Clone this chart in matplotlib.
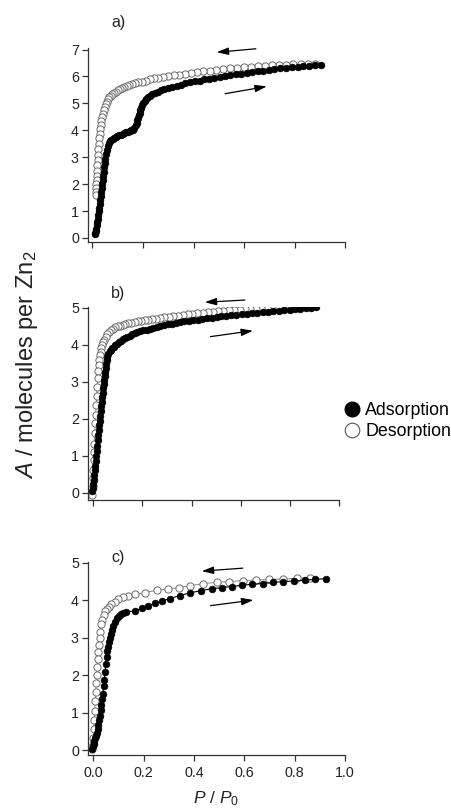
#isotermas de adsorcao / dessorcao - tres paineis
import matplotlib
matplotlib.use("Agg")
import matplotlib.pyplot as plt
from matplotlib.lines import Line2D

plt.rcParams['font.family'] = ['Liberation Sans', 'DejaVu Sans']
plt.rcParams['mathtext.fontset'] = 'custom'
plt.rcParams['mathtext.rm'] = 'Liberation Sans'
plt.rcParams['mathtext.it'] = 'Liberation Sans:italic'

#dados (P/P0, moleculas por Zn2)
pa_ads_x = [0.008, 0.010, 0.012, 0.014, 0.016, 0.018, 0.020, 0.022, 0.024, 0.026, 0.028, 0.030, 0.032, 0.034, 0.036,
            0.038, 0.040, 0.042, 0.044, 0.046, 0.048, 0.050, 0.053, 0.056, 0.060, 0.065, 0.070, 0.075, 0.080, 0.086,
            0.092, 0.098, 0.105, 0.112, 0.119, 0.126, 0.133, 0.140, 0.147, 0.154, 0.160, 0.166, 0.171, 0.175, 0.178,
            0.181, 0.184, 0.187, 0.190, 0.193, 0.197, 0.201, 0.206, 0.212, 0.219, 0.227, 0.236, 0.246, 0.258, 0.271,
            0.285, 0.300, 0.316, 0.333, 0.350, 0.368, 0.386, 0.405, 0.424, 0.443, 0.463, 0.483, 0.504, 0.525, 0.546,
            0.567, 0.588, 0.610, 0.632, 0.654, 0.676, 0.698, 0.720, 0.743, 0.766, 0.789, 0.812, 0.835, 0.858, 0.881,
            0.904]
pa_ads_y = [0.15, 0.17, 0.25, 0.35, 0.47, 0.60, 0.72, 0.85, 0.99, 1.12, 1.27, 1.41, 1.57, 1.72, 1.87,
            2.02, 2.16, 2.31, 2.45, 2.62, 2.78, 2.95, 3.12, 3.28, 3.42, 3.53, 3.60, 3.64, 3.68, 3.71,
            3.75, 3.78, 3.81, 3.84, 3.87, 3.89, 3.92, 3.95, 3.97, 4.00, 4.03, 4.10, 4.18, 4.27, 4.37,
            4.47, 4.56, 4.66, 4.75, 4.84, 4.93, 5.02, 5.10, 5.17, 5.23, 5.29, 5.34, 5.38, 5.43, 5.48,
            5.53, 5.57, 5.62, 5.66, 5.70, 5.74, 5.78, 5.82, 5.85, 5.89, 5.92, 5.96, 5.99, 6.02, 6.05,
            6.08, 6.11, 6.14, 6.17, 6.20, 6.22, 6.25, 6.27, 6.30, 6.32, 6.34, 6.36, 6.38, 6.40, 6.42,
            6.43]
pa_des_x = [0.880, 0.852, 0.824, 0.796, 0.768, 0.740, 0.712, 0.684, 0.656, 0.628, 0.600, 0.572, 0.545, 0.518,
            0.491, 0.465, 0.439, 0.414, 0.390, 0.366, 0.343, 0.321, 0.300, 0.280, 0.261, 0.243, 0.226, 0.210,
            0.195, 0.181, 0.168, 0.156, 0.145, 0.135, 0.125, 0.116, 0.108, 0.100, 0.092, 0.085, 0.078, 0.072,
            0.066, 0.061, 0.056, 0.052, 0.048, 0.044, 0.041, 0.038, 0.035, 0.032, 0.030, 0.028, 0.026, 0.024,
            0.022, 0.021, 0.020, 0.019, 0.018, 0.017, 0.016, 0.015, 0.014, 0.013, 0.012]
pa_des_y = [6.48, 6.47, 6.46, 6.45, 6.44, 6.43, 6.42, 6.40, 6.38, 6.36, 6.34, 6.32, 6.30, 6.27,
            6.25, 6.22, 6.19, 6.16, 6.13, 6.10, 6.07, 6.05, 6.02, 5.99, 5.96, 5.93, 5.89, 5.85,
            5.81, 5.78, 5.74, 5.71, 5.67, 5.64, 5.60, 5.56, 5.52, 5.48, 5.44, 5.39, 5.34, 5.28,
            5.22, 5.15, 5.06, 4.96, 4.86, 4.74, 4.62, 4.50, 4.36, 4.20, 4.05, 3.88, 3.70, 3.50,
            3.30, 3.10, 2.90, 2.70, 2.50, 2.30, 2.15, 2.00, 1.85, 1.70, 1.58]

pb_ads_x = [-0.004, -0.002, 0.000, 0.002, 0.004, 0.006, 0.008, 0.010, 0.012, 0.014, 0.016, 0.018, 0.020, 0.022,
            0.024, 0.026, 0.028, 0.030, 0.032, 0.034, 0.036, 0.038, 0.040, 0.042, 0.044, 0.046, 0.048, 0.050,
            0.052, 0.055, 0.058, 0.062, 0.067, 0.072, 0.077, 0.083, 0.090, 0.097, 0.104, 0.112, 0.120, 0.129,
            0.138, 0.148, 0.158, 0.169, 0.180, 0.192, 0.204, 0.217, 0.230, 0.244, 0.258, 0.273, 0.288, 0.304,
            0.320, 0.337, 0.354, 0.371, 0.389, 0.407, 0.425, 0.444, 0.463, 0.482, 0.502, 0.522, 0.542, 0.562,
            0.583, 0.604, 0.625, 0.646, 0.667, 0.689, 0.711, 0.733, 0.755, 0.777, 0.799, 0.821, 0.843, 0.865,
            0.887, 0.905]
pb_ads_y = [0.03, 0.13, 0.24, 0.35, 0.47, 0.60, 0.73, 0.86, 0.99, 1.13, 1.27, 1.41, 1.55, 1.69,
            1.82, 1.95, 2.08, 2.21, 2.34, 2.46, 2.58, 2.70, 2.82, 2.94, 3.05, 3.16, 3.27, 3.37,
            3.47, 3.58, 3.68, 3.76, 3.82, 3.87, 3.91, 3.95, 3.99, 4.03, 4.07, 4.11, 4.15, 4.18,
            4.22, 4.25, 4.28, 4.31, 4.34, 4.36, 4.39, 4.41, 4.43, 4.46, 4.48, 4.50, 4.53, 4.55,
            4.57, 4.59, 4.61, 4.63, 4.64, 4.66, 4.68, 4.70, 4.72, 4.73, 4.75, 4.77, 4.78, 4.80,
            4.81, 4.83, 4.84, 4.85, 4.87, 4.88, 4.89, 4.91, 4.92, 4.93, 4.95, 4.96, 4.98, 4.99,
            5.00, 5.01]
pb_des_x = [0.860, 0.838, 0.816, 0.794, 0.772, 0.750, 0.728, 0.706, 0.684, 0.662, 0.640, 0.618, 0.596, 0.574,
            0.552, 0.530, 0.508, 0.487, 0.466, 0.445, 0.424, 0.404, 0.384, 0.364, 0.345, 0.326, 0.308, 0.290,
            0.273, 0.256, 0.240, 0.224, 0.209, 0.195, 0.181, 0.168, 0.155, 0.143, 0.131, 0.120, 0.109, 0.099,
            0.089, 0.080, 0.071, 0.063, 0.056, 0.050, 0.045, 0.041, 0.037, 0.033, 0.030, 0.027, 0.024, 0.022,
            0.020, 0.018, 0.016, 0.014, 0.012, 0.010, 0.008, 0.006, 0.004, 0.003, 0.002, 0.001, 0.000, -0.002,
            -0.005]
pb_des_y = [5.04, 5.03, 5.03, 5.02, 5.02, 5.01, 5.00, 4.99, 4.99, 4.98, 4.97, 4.96, 4.95, 4.94,
            4.93, 4.92, 4.91, 4.89, 4.88, 4.86, 4.85, 4.83, 4.82, 4.80, 4.79, 4.77, 4.76, 4.74,
            4.73, 4.71, 4.70, 4.68, 4.67, 4.65, 4.63, 4.61, 4.60, 4.58, 4.56, 4.54, 4.52, 4.50,
            4.47, 4.43, 4.39, 4.34, 4.28, 4.21, 4.14, 4.07, 3.99, 3.90, 3.81, 3.71, 3.58, 3.45,
            3.30, 3.10, 2.85, 2.62, 2.38, 2.10, 1.88, 1.62, 1.32, 1.10, 0.88, 0.62, 0.40, 0.18,
            -0.06]

pc_ads_x = [-0.004, -0.001, 0.002, 0.005, 0.008, 0.011, 0.014, 0.017, 0.020, 0.023, 0.026, 0.029, 0.032, 0.035,
            0.038, 0.041, 0.044, 0.047, 0.050, 0.053, 0.056, 0.059, 0.062, 0.066, 0.070, 0.075, 0.080, 0.086,
            0.093, 0.101, 0.110, 0.120, 0.131, 0.166, 0.192, 0.219, 0.245, 0.272, 0.305, 0.344, 0.384, 0.427,
            0.470, 0.510, 0.550, 0.590, 0.629, 0.673, 0.715, 0.755, 0.797, 0.841, 0.881, 0.925]
pc_ads_y = [0.04, 0.10, 0.17, 0.24, 0.31, 0.38, 0.45, 0.55, 0.68, 0.80, 0.92, 1.06, 1.20, 1.35,
            1.50, 1.70, 1.88, 2.08, 2.30, 2.48, 2.63, 2.76, 2.87, 2.99, 3.09, 3.21, 3.32, 3.42,
            3.51, 3.58, 3.63, 3.66, 3.68, 3.71, 3.78, 3.85, 3.91, 3.97, 4.04, 4.12, 4.19, 4.25,
            4.30, 4.33, 4.36, 4.39, 4.42, 4.44, 4.47, 4.49, 4.51, 4.53, 4.55, 4.57]
pc_des_x = [0.861, 0.808, 0.755, 0.699, 0.646, 0.594, 0.540, 0.490, 0.437, 0.384, 0.342, 0.298, 0.252, 0.205,
            0.166, 0.140, 0.120, 0.100, 0.085, 0.072, 0.062, 0.054, 0.047, 0.041, 0.036, 0.032, 0.028, 0.025,
            0.022, 0.020, 0.018, 0.016, 0.014, 0.012, 0.010, 0.008, 0.006, 0.004, 0.002, 0.000, -0.002, -0.004]
pc_des_y = [4.59, 4.58, 4.56, 4.55, 4.53, 4.52, 4.49, 4.47, 4.44, 4.38, 4.33, 4.30, 4.26, 4.20,
            4.15, 4.11, 4.08, 4.02, 3.96, 3.90, 3.82, 3.76, 3.70, 3.60, 3.48, 3.35, 3.15, 2.98,
            2.80, 2.62, 2.42, 2.22, 2.00, 1.78, 1.55, 1.30, 1.05, 0.80, 0.55, 0.31, 0.15, 0.04]

panel_labels = ['a)', 'b)', 'c)']
x_ticks = [0.0, 0.2, 0.4, 0.6, 0.8, 1.0]
y_ticks_a = [0, 1, 2, 3, 4, 5, 6, 7]
y_ticks_bc = [0, 1, 2, 3, 4, 5]
legend_labels = ['Adsorption', 'Desorption']

#setas (cauda, ponta) em coordenadas de dados
arrows_a = [((0.647, 7.03), (0.492, 6.90)), ((0.525, 5.36), (0.690, 5.63))]
arrows_b = [((0.617, 5.21), (0.454, 5.15)), ((0.477, 4.22), (0.650, 4.38))]
arrows_c = [((0.594, 4.85), (0.431, 4.77)), ((0.466, 3.85), (0.636, 4.00))]

fig = plt.figure(figsize=(4.51, 8.09), dpi=100)
ax_a = fig.add_axes([0.195, 0.7009, 0.570, 0.2398])
ax_b = fig.add_axes([0.195, 0.3820, 0.5565, 0.2389])
ax_c = fig.add_axes([0.195, 0.0667, 0.570, 0.2389])

paineis = [
    (ax_a, pa_ads_x, pa_ads_y, pa_des_x, pa_des_y, (-0.018, 1.0), (-0.15, 7.06), y_ticks_a, arrows_a, 1.13),
    (ax_b, pb_ads_x, pb_ads_y, pb_des_x, pb_des_y, (-0.0215, 1.0), (-0.2, 5.03), y_ticks_bc, arrows_b, 1.07),
    (ax_c, pc_ads_x, pc_ads_y, pc_des_x, pc_des_y, (-0.021, 1.0), (-0.133, 5.02), y_ticks_bc, arrows_c, 1.02),
]

cinza = '#333333'
for i, (ax, ax_x, ax_y, de_x, de_y, xl, yl, yt, setas, ylab) in enumerate(paineis):
    ax.plot(de_x, de_y, '-o', color='#777777', lw=0.6, ms=5.2, mfc='white', mec='#6a6a6a', mew=0.7)
    ax.plot(ax_x, ax_y, '-o', color='black', lw=0.8, ms=4.8, mfc='black', mec='black', mew=0.5)
    ax.set_xlim(xl)
    ax.set_ylim(yl)
    ax.set_xticks(x_ticks)
    ax.set_yticks(yt)
    for s in ['top', 'right']:
        ax.spines[s].set_visible(False)
    for s in ['left', 'bottom']:
        ax.spines[s].set_color(cinza)
        ax.spines[s].set_linewidth(0.9)
    ax.tick_params(direction='out', length=4.5, width=0.9, color=cinza, labelcolor='#222222',
                   labelsize=10.3, pad=2)
    ax.tick_params(axis='x', pad=3.5)
    if i < 2:
        ax.set_xticklabels([])
    else:
        ax.set_xticklabels(['%.1f' % t for t in x_ticks])
    for cauda, ponta in setas:
        ax.annotate('', xy=ponta, xytext=cauda, annotation_clip=False,
                    arrowprops=dict(arrowstyle='-|>,head_length=0.7,head_width=0.22', lw=0.9,
                                    color='black', shrinkA=0, shrinkB=0, mutation_scale=10))
    ax.text(0.118, ylab, panel_labels[i], transform=ax.transAxes, ha='center', va='center',
            fontsize=11.5, color='#222222')

ax_c.set_xlabel(r'$P$ / $P_0$', fontsize=12.5, color='#222222', labelpad=6.5)
fig.text(27 / 451, 1 - 365 / 809, r'$A$ / molecules per Zn$_2$', rotation=90, ha='center', va='center',
         fontsize=17, color='#222222')

#legenda
handles = [Line2D([], [], ls='none', marker='o', ms=10.5, mfc='black', mec='black'),
           Line2D([], [], ls='none', marker='o', ms=10.5, mfc='white', mec='#555555', mew=0.8)]
fig.legend(handles, legend_labels, loc='center left', bbox_to_anchor=(344 / 451, 1 - 421 / 809),
           frameon=False, fontsize=12.8, handlelength=0.9, handletextpad=0.3, labelspacing=0.25,
           borderpad=0, borderaxespad=0)

fig.savefig('out.png', dpi=100)
